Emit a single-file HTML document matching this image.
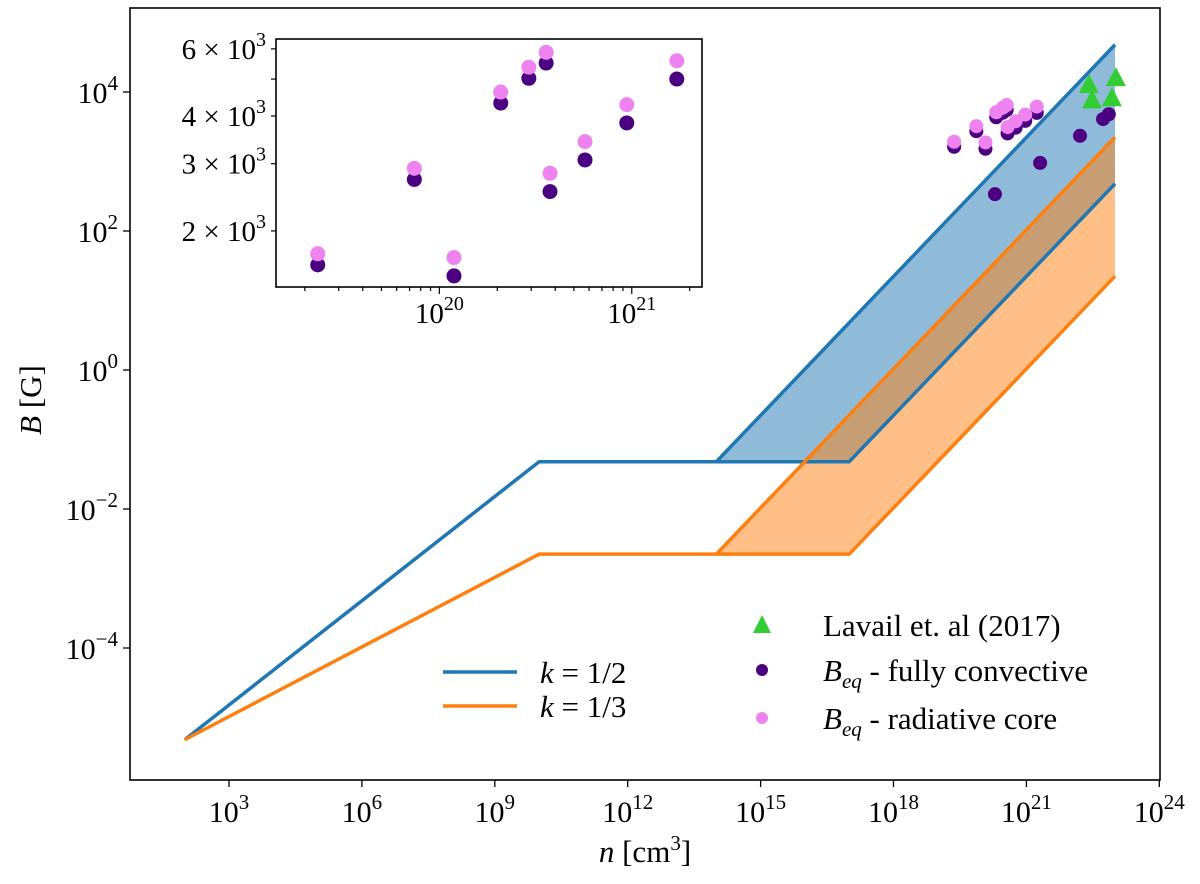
<!DOCTYPE html>
<html><head><meta charset="utf-8"><style>
body{margin:0;background:#fff}
svg text{font-family:"Liberation Serif","DejaVu Serif",serif;fill:#000}
</style></head><body>
<svg id="chart" width="1200" height="879" viewBox="0 0 1200 879" xmlns="http://www.w3.org/2000/svg">
<g id="main"></g>
<g id="inset"></g>
</svg>
<script>
// main chart data (log10 values)
const xTickExps = [3,6,9,12,15,18,21,24];
const yTickExps = [4,2,0,-2,-4];
// k=1/2 model: breakpoints (log n, log B)
const blueLowX = [2, 10, 17, 23];
const blueLowY = [-5.32, -1.32, -1.32, 2.68];
const blueHighX = [14, 23];
const blueHighY = [-1.32, 4.68];
const orangeLowX = [2, 10, 17, 23];
const orangeLowY = [-5.32, -2.65, -2.65, 1.35];
const orangeHighX = [14, 23];
const orangeHighY = [-2.65, 3.35];
// stars (log n, log B)
const starN = [19.368,19.870,20.076,20.319,20.465,20.555,20.575,20.757,20.974,21.234];
const radiativeB = [3.241,3.465,3.231,3.665,3.730,3.769,3.452,3.535,3.632,3.747];
const convectiveB = [3.212,3.436,3.183,3.636,3.701,3.741,3.404,3.487,3.584,3.699];
const extraConvN = [20.29,21.31,22.21,22.73,22.86];
const extraConvB = [2.53,2.98,3.37,3.61,3.68];
const lavailN = [22.41,22.48,23.02,22.93];
const lavailB = [4.10,3.88,4.20,3.91];
// inset ticks
const insetYTicks = [2000,3000,4000,5000,6000];
const insetYLabels = ["2","3","4","","6"];

const NS="http://www.w3.org/2000/svg";
function mk(tag, attrs, parent){const e=document.createElementNS(NS,tag);for(const k in attrs)e.setAttribute(k,attrs[k]);parent.appendChild(e);return e;}
const main=document.getElementById('main'), inset=document.getElementById('inset');
const L=130,R=1160,T=8,B=780;
const sx=e=>229+(e-3)*44.3;
const sy=e=>92-(e-4)*69.5;
const BLUE="#1f77b4", ORANGE="#ff7f0e";

function band(lx,ly,hx,hy,color,name){
  let pts=[];
  pts.push([sx(hx[0]),sy(hy[0])],[sx(hx[1]),sy(hy[1])]);
  pts.push([sx(lx[3]),sy(ly[3])],[sx(lx[2]),sy(ly[2])]);
  const p=mk('polygon',{points:pts.map(p=>p.join(',')).join(' '),fill:color,'fill-opacity':0.5},main);
  
  
}
band(blueLowX,blueLowY,blueHighX,blueHighY,BLUE,'k-half-band');
band(orangeLowX,orangeLowY,orangeHighX,orangeHighY,ORANGE,'k-third-band');
function line(xs,ys,color,name){
  const p=mk('polyline',{points:xs.map((x,i)=>sx(x)+','+sy(ys[i])).join(' '),fill:'none',stroke:color,'stroke-width':3.5},main);
  
  
}
line(blueLowX,blueLowY,BLUE,'k-half-lower-line');
line(blueHighX,blueHighY,BLUE,'k-half-upper-line');
line(orangeLowX,orangeLowY,ORANGE,'k-third-lower-line');
line(orangeHighX,orangeHighY,ORANGE,'k-third-upper-line');

function dot(parent,x,y,r,c,name){const d=mk('circle',{cx:x,cy:y,r:r,fill:c},parent);
  
  }
starN.forEach((n,i)=>dot(main,sx(n),sy(convectiveB[i]),7,'#4b0082','convective-point'));
extraConvN.forEach((n,i)=>dot(main,sx(n),sy(extraConvB[i]),7,'#4b0082','convective-point'));
starN.forEach((n,i)=>dot(main,sx(n),sy(radiativeB[i])-3,7,'#ee82ee','radiative-point'));
lavailN.forEach((n,i)=>{const x=sx(n),y=sy(lavailB[i]);
  const t=mk('polygon',{points:`${x},${y-11} ${x-10},${y+8} ${x+10},${y+8}`,fill:'#32cd32'},main);
  
  });

const fr=mk('rect',{x:L,y:T,width:R-L,height:B-T,fill:'none',stroke:'#000','stroke-width':1.6},main);


xTickExps.forEach(e=>{const x=sx(e);
  mk('line',{x1:x,x2:x,y1:B,y2:B+7,stroke:'#000','stroke-width':1.3},main);
  const t=mk('text',{x:x,y:822,'font-size':30,'text-anchor':'middle'},main);
  
  
  t.innerHTML=`10<tspan dy="-13" font-size="21">${e}</tspan>`;});
yTickExps.forEach(e=>{const y=sy(e);
  mk('line',{x1:L-7,x2:L,y1:y,y2:y,stroke:'#000','stroke-width':1.3},main);
  const t=mk('text',{x:L-12,y:y+11,'font-size':30,'text-anchor':'end'},main);
  
  
  t.innerHTML=`10<tspan dy="-13" font-size="21">${e<0?'−'+(-e):e}</tspan>`;});
let xt=mk('text',{x:645,y:862,'font-size':31,'text-anchor':'middle'},main);


xt.innerHTML='<tspan font-style="italic">n</tspan> [cm<tspan dy="-12" font-size="21">3</tspan><tspan dy="12">]</tspan>';
let yt=mk('text',{x:0,y:0,'font-size':31,'text-anchor':'middle',transform:'translate(41,400) rotate(-90)'},main);


yt.innerHTML='<tspan font-style="italic">B</tspan> [G]';

const lg=mk('g',{},main);


mk('line',{x1:443,x2:517,y1:672,y2:672,stroke:BLUE,'stroke-width':3.5},lg);
mk('line',{x1:443,x2:517,y1:706,y2:706,stroke:ORANGE,'stroke-width':3.5},lg);
[[672,'1/2'],[706,'1/3']].forEach(([y,k])=>{const t=mk('text',{x:540,y:y+11,'font-size':31},lg);
  
  
  t.innerHTML=`<tspan font-style="italic">k</tspan> = ${k}`;});
mk('polygon',{points:'762,615 753,633 771,633',fill:'#32cd32'},lg);
dot(lg,762,670,6,'#4b0082','legend-convective-marker');
dot(lg,762,718,6,'#ee82ee','legend-radiative-marker');
[[625,'Lavail et. al (2017)',278],[670,'<tspan font-style="italic">B</tspan><tspan dy="7" font-size="21" font-style="italic">eq</tspan><tspan dy="-7"> - fully convective</tspan>',0],[718,'<tspan font-style="italic">B</tspan><tspan dy="7" font-size="21" font-style="italic">eq</tspan><tspan dy="-7"> - radiative core</tspan>',0]].forEach(([y,s,w])=>{
  const t=mk('text',{x:823,y:y+11,'font-size':31},lg);
  
  
  t.innerHTML=s;});

// inset
const IL=276,IR=702,IT=39,IB=287;
const ix=e=>IL+(e-19.151)/(21.365-19.151)*(IR-IL);
const iy=v=>IB-(Math.log10(v)-3.154)/(3.804-3.154)*(IB-IT);
mk('rect',{x:IL,y:IT,width:IR-IL,height:IB-IT,fill:'#fff'},inset);
starN.forEach((n,i)=>dot(inset,ix(n),iy(Math.pow(10,convectiveB[i])),7.5,'#4b0082','inset-convective-point'));
starN.forEach((n,i)=>dot(inset,ix(n),iy(Math.pow(10,radiativeB[i])),7.5,'#ee82ee','inset-radiative-point'));
const ifr=mk('rect',{x:IL,y:IT,width:IR-IL,height:IB-IT,fill:'none',stroke:'#000','stroke-width':1.6},inset);


for(let d=19;d<=21;d++)for(let m=1;m<=9;m++){const e=d+Math.log10(m);if(e<19.151||e>21.365)continue;
  const x=ix(e);const major=m===1;
  mk('line',{x1:x,x2:x,y1:IB,y2:IB+(major?7:4),stroke:'#000','stroke-width':1.2},inset);
  if(major){const t=mk('text',{x:x,y:IB+36,'font-size':29,'text-anchor':'middle'},inset);
    
    
    t.innerHTML=`10<tspan dy="-13" font-size="20">${d}</tspan>`;}}
insetYTicks.forEach((v,i)=>{const y=iy(v);
  mk('line',{x1:IL-5,x2:IL,y1:y,y2:y,stroke:'#000','stroke-width':1.2},inset);
  if(insetYLabels[i]){const t=mk('text',{x:IL-10,y:y+10,'font-size':29,'text-anchor':'end'},inset);
    
    
    t.innerHTML=`${insetYLabels[i]} × 10<tspan dy="-13" font-size="20">3</tspan>`;}});
</script>
</body></html>
